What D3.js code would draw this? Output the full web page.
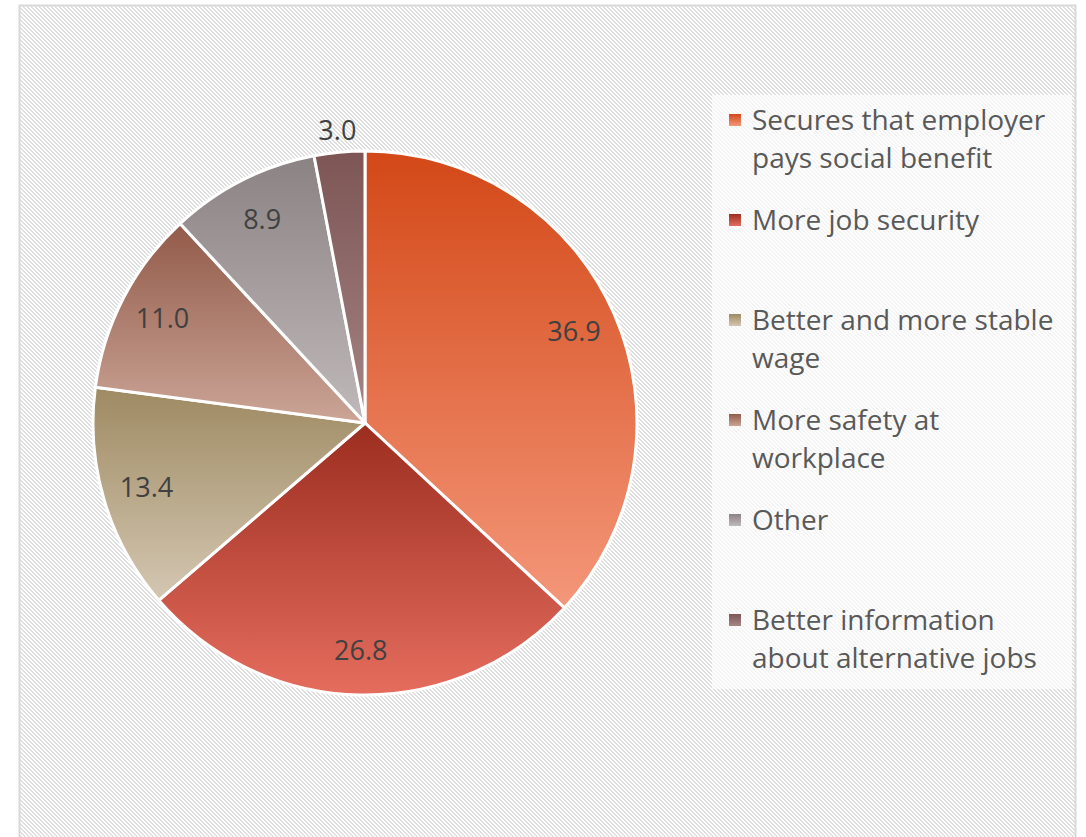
<!DOCTYPE html>
<html>
<head>
<meta charset="utf-8">
<script src="https://cdn.jsdelivr.net/npm/d3@7"></script>
<style>
  body { margin: 0; background: #fff; }
  svg { display: block; font-family: "Open Sans", sans-serif; }
</style>
</head>
<body>
<svg id="chart" width="1086" height="837"></svg>
<script>
// ===== DATOS =====
const categorias = [
  "Secures that employer pays social benefit",
  "More job security",
  "Better and more stable wage",
  "More safety at workplace",
  "Other",
  "Better information about alternative jobs"
];
const valores = [36.9, 26.8, 13.4, 11.0, 8.9, 3.0];
// legend lines (wrapped as in the original)
const lineasLeyenda = [
  ["Secures that employer", "pays social benefit"],
  ["More job security"],
  ["Better and more stable", "wage"],
  ["More safety at", "workplace"],
  ["Other"],
  ["Better information", "about alternative jobs"]
];
// gradient top / bottom colours per slice
const coloresArriba = ["#d34817", "#9b2d1f", "#9e8a62", "#925a49", "#8b8283", "#7d5555"];
const coloresAbajo  = ["#f4977a", "#e56d5e", "#d4c7b2", "#cba597", "#c0b9ba", "#a58585"];

const cx = 365, cy = 423, R = 272;

const svg = d3.select("#chart");
const defs = svg.append("defs");

// hatch background
const pat = defs.append("pattern")
  .attr("id", "hatch")
  .attr("patternUnits", "userSpaceOnUse")
  .attr("width", 4).attr("height", 4);
pat.append("rect").attr("width", 4).attr("height", 4).attr("fill", "#fff");
[[0,0,2],[1,1,2],[2,2,2],[3,3,1],[0,3,1]].forEach(([x, y, w]) => {
  pat.append("rect").attr("x", x).attr("y", y).attr("width", w).attr("height", 1).attr("fill", "#dedede");
});

svg.append("rect")
  .attr("x", 19.5).attr("y", 5.5)
  .attr("width", 1056).attr("height", 850)
  .attr("fill", "url(#hatch)")
  .attr("stroke", "#d9d9d9")
  .attr("stroke-width", 2);

// gradients
categorias.forEach((c, i) => {
  const g = defs.append("linearGradient")
    .attr("id", "grad" + i)
    .attr("x1", 0).attr("y1", 0).attr("x2", 0).attr("y2", 1);
  g.append("stop").attr("offset", "0%").attr("stop-color", coloresArriba[i]);
  g.append("stop").attr("offset", "100%").attr("stop-color", coloresAbajo[i]);
});

// ===== PIE =====
const pie = d3.pie().sort(null).value(d => d);
const arcos = pie(valores);
const arc = d3.arc().innerRadius(0).outerRadius(R);
const arcLabel = d3.arc().innerRadius(228).outerRadius(228);
const arcFuera = d3.arc().innerRadius(R + 22).outerRadius(R + 22);

const g = svg.append("g").attr("transform", `translate(${cx},${cy})`);

g.selectAll("path")
  .data(arcos)
  .enter()
  .append("path")
  .attr("d", arc)
  .attr("fill", (d, i) => `url(#grad${i})`)
  .attr("stroke", "#fff")
  .attr("stroke-width", 3)
  .attr("stroke-linejoin", "round");

g.selectAll("text.etiqueta")
  .data(arcos)
  .enter()
  .append("text")
  .attr("class", "etiqueta")
  .attr("transform", d => {
    const p = (d.data < 5 ? arcFuera : arcLabel).centroid(d);
    return `translate(${p[0]},${p[1]})`;
  })
  .attr("text-anchor", "middle")
  .attr("dy", "0.35em")
  .attr("font-size", 27)
  .attr("fill", "#404040")
  .text(d => d3.format(".1f")(d.data));

// ===== LEYENDA =====
svg.append("rect")
  .attr("x", 712).attr("y", 95)
  .attr("width", 360).attr("height", 594)
  .attr("fill", "#fff").attr("fill-opacity", 0.65);

const y0 = 120, paso = 100, interlinea = 38;
const leyenda = svg.append("g");
lineasLeyenda.forEach((lineas, i) => {
  const yy = y0 + i * paso;
  leyenda.append("rect")
    .attr("x", 729).attr("y", yy - 6)
    .attr("width", 12).attr("height", 12)
    .attr("fill", `url(#grad${i})`);
  const t = leyenda.append("text")
    .attr("x", 752).attr("y", yy)
    .attr("font-size", 28)
    .attr("fill", "#595959");
  lineas.forEach((l, j) => {
    t.append("tspan")
      .attr("x", 752)
      .attr("y", yy + j * interlinea)
      .attr("dy", "0.35em")
      .text(l);
  });
});
</script>
</body>
</html>
